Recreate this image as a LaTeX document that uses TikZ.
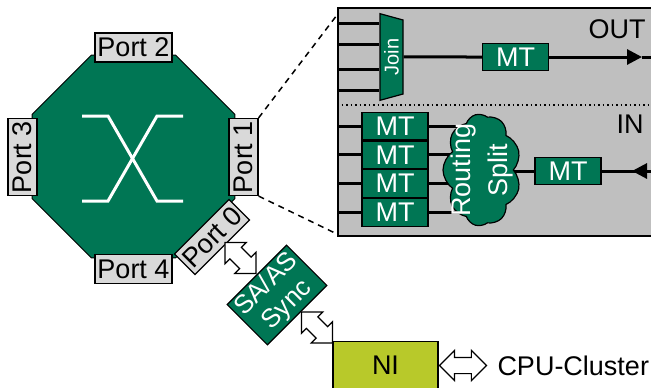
\documentclass[tikz,border=0pt]{standalone}
\usepackage{fontspec}
\setmainfont{Liberation Sans}
\usepackage{tikz}
\usetikzlibrary{arrows.meta,shapes.geometric,shapes.symbols,shapes.arrows,positioning,backgrounds}
\definecolor{switchGreen}{RGB}{0,118,84}
\definecolor{portGray}{RGB}{217,217,217}
\definecolor{panelGray}{RGB}{191,191,191}
\definecolor{niYellow}{RGB}{184,201,42}
\tikzset{
  portbox/.style={
    rectangle, draw=black, line width=1.2pt, fill=portGray,
    minimum width=77pt, minimum height=29pt, inner sep=0pt,
    font=\fontsize{27}{29}\selectfont
  },
  mtbox/.style={
    rectangle, draw=black, line width=1.2pt, fill=switchGreen, text=white,
    minimum width=66pt, minimum height=27.6pt, inner sep=0pt,
    font=\fontsize{27}{29}\selectfont
  },
  greenbox/.style={
    draw=black, line width=1.2pt, fill=switchGreen, text=white, inner sep=0pt
  },
  hollowArrow/.style={
    double arrow, draw=black, line width=1.2pt, fill=white, minimum width=29pt,
    inner xsep=0pt, inner ysep=7.5pt, double arrow head extend=7pt
  },
  thickLine/.style={line width=3pt},
  bigtext/.style={font=\fontsize{27}{29}\selectfont, inner sep=0pt}
}

\begin{document}
\begin{tikzpicture}[x=1pt,y=-1pt]
\useasboundingbox (0,0) rectangle (651,388);
% zoomed view of port 1
\begin{scope}[on background layer]
  \node[rectangle, draw=black, line width=2pt, fill=panelGray, anchor=north west,
        minimum width=330pt, minimum height=228pt] (panel) at (337,7) {};
\end{scope}

% switch with its five ports
\node[regular polygon, regular polygon sides=8, minimum size=219.7pt, inner sep=0pt,
      draw=black, line width=1pt, fill=switchGreen] (sw) at (133.5,156.5) {};
\draw[white, line width=3pt] ([shift={(-51.5,-40.5)}]sw.center) -- ([shift={(-25.5,-40.5)}]sw.center)
  -- ([shift={(23.5,44.5)}]sw.center) -- ([shift={(49.5,44.5)}]sw.center);
\draw[white, line width=3pt] ([shift={(-51.5,44.5)}]sw.center) -- ([shift={(-25.5,44.5)}]sw.center)
  -- ([shift={(23.5,-40.5)}]sw.center) -- ([shift={(49.5,-40.5)}]sw.center);
\node[portbox] (p2) at (133.5,47.5) {Port 2};
\node[portbox, rotate=90] (p1) at (243.5,157) {Port 1};
\node[portbox, rotate=90] (p3) at (22.5,157) {Port 3};
\node[portbox] (p4) at (133.5,269) {Port 4};
\node[portbox, rotate=45] (p0) at (212,237) {Port 0};

\draw[line width=1.5pt, dash pattern=on 6pt off 5pt] (p1.south east) -- ([yshift=-8pt]panel.north west);
\draw[line width=1.5pt, dash pattern=on 6pt off 5pt] (p1.south west) -- ([yshift=3pt]panel.south west);

% OUT direction
\node[trapezium, trapezium left angle=102, trapezium right angle=102, trapezium stretches=true,
      greenbox, minimum width=87pt, minimum height=23pt, rotate=90,
      font=\fontsize{20}{22}\selectfont] (join) at (391.5,57) {Join};
\node[mtbox] (mtOut) at (515.5,57) {MT};
\node[bigtext] (out) at (617,29) {OUT};
\coordinate (outTip) at (642,57);
\coordinate (outEnd) at (660,57);
\draw[thickLine] (panel.west |- 0,23) -- (join.north |- 0,23);
\draw[thickLine] (panel.west |- 0,44) -- (join.north |- 0,44);
\draw[thickLine] (panel.west |- 0,69) -- (join.north |- 0,69);
\draw[thickLine] (panel.west |- 0,90) -- (join.north |- 0,90);
\draw[thickLine] (join) -- (mtOut);
\draw[thickLine, -{Triangle[length=15pt,width=15pt]}] (mtOut) -- (outTip);
\draw[thickLine] (outTip) -- (outEnd);

\draw[line width=1.5pt, dash pattern=on 1.5pt off 3pt] (panel.west |- 0,105) -- (panel.east |- 0,105);

% IN direction
\node[mtbox] (mtA) at (395,126) {MT};
\node[mtbox, below=0pt of mtA] (mtB) {MT};
\node[mtbox, below=0pt of mtB] (mtC) {MT};
\node[mtbox, below=0pt of mtC] (mtD) {MT};
\node[cloud, cloud puffs=9, cloud puff arc=110, cloud ignores aspect, greenbox, minimum width=112pt,
      minimum height=78pt, rotate=90] (split) at (482,170) {};
\node[bigtext, text=white, align=center, rotate=90, font=\fontsize{27}{37}\selectfont]
  (splitText) at (split) {Routing\\Split};
\node[mtbox] (mtIn) at (568,171) {MT};
\node[bigtext] (in) at (630,124) {IN};
\coordinate (inTip) at (632,171);
\coordinate (inEnd) at (660,171);
\begin{scope}[on background layer]
  \draw[thickLine] (panel.west |- mtA) -- (split.center |- mtA);
  \draw[thickLine] (panel.west |- mtB) -- (split.center |- mtB);
  \draw[thickLine] (panel.west |- mtC) -- (split.center |- mtC);
  \draw[thickLine] (panel.west |- mtD) -- (split.center |- mtD);
  \draw[thickLine] (split.center |- mtIn) -- (mtIn);
\end{scope}
\draw[thickLine] (mtIn) -- (inEnd);
\draw[thickLine, -{Triangle[length=15pt,width=15pt]}] (inEnd) -- (inTip);

% network interface
\node[rectangle, greenbox, rotate=45, minimum width=84pt, minimum height=57pt, align=center,
      font=\fontsize{26}{29}\selectfont] (sync) at (277,295) {SA/AS\\Sync};
\node[rectangle, draw=black, line width=1.2pt, fill=niYellow, minimum width=105pt,
      minimum height=48pt, inner sep=0pt, font=\fontsize{27}{29}\selectfont] (ni) at (385.5,365.5) {NI};
\node[hollowArrow, minimum height=44pt, rotate=-45] (arrA) at (240.5,258) {};
\node[hollowArrow, minimum height=44pt, rotate=-45] (arrB) at (317,327.5) {};
\node[hollowArrow, minimum height=47pt, right=0pt of ni] (arrC) {};
\node[bigtext, right=10pt of arrC] (cpu) {CPU-Cluster};
\end{tikzpicture}
\end{document}
